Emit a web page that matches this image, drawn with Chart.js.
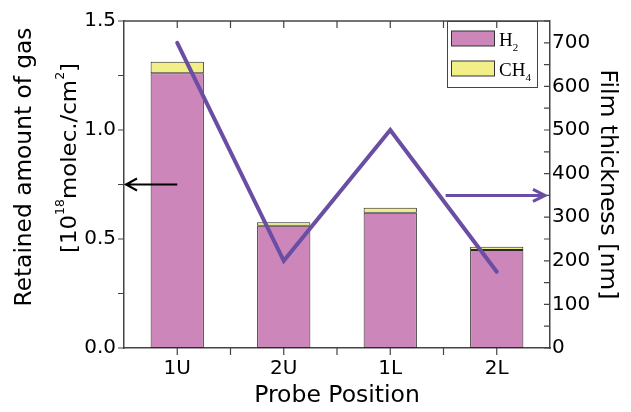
<!DOCTYPE html>
<html>
<head>
<meta charset="utf-8">
<script src="https://cdn.jsdelivr.net/npm/chart.js@4"></script>
<style>
  body { margin: 0; background: #fff; }
  #wrap { width: 631px; height: 412px; }
</style>
</head>
<body>
<div id="wrap"><canvas id="chart" width="631" height="412"></canvas></div>
<script>
var probes = ['1U', '2U', '1L', '2L'];
var h2Amount = [1.26, 0.561, 0.62, 0.45];
var ch4Amount = [0.053, 0.016, 0.023, 0.015];
var filmThickness = [700, 200, 500, 175];
var gasTicks = [0, 0.5, 1.0, 1.5];
var thicknessTicks = [0, 100, 200, 300, 400, 500, 600, 700];

// arrows pointing at the axis each series belongs to
var gasArrow = { from: '1U', value: 0.75 };
var thicknessArrow = { fromValue: 2.52, value: 350 };

var colors = { h2: '#cc86b9', ch4: '#f3ef88', line: '#6a4ea3', axis: '#444444' };
var font = 'DejaVu Sans';

// draws text parts (text, isSuperscript) centred on 0,0, squeezed to a given length
function drawParts(ctx, parts, size, length) {
    var total = 0;
    parts.forEach(function (p) {
        ctx.font = (p[1] ? Math.round(size * 0.55) : size) + 'px "' + font + '"';
        total += ctx.measureText(p[0]).width;
    });
    ctx.scale(length / total, 1);
    var px = -total / 2;
    parts.forEach(function (p) {
        ctx.font = (p[1] ? Math.round(size * 0.55) : size) + 'px "' + font + '"';
        ctx.fillText(p[0], px, p[1] ? -size * 0.42 : 0);
        px += ctx.measureText(p[0]).width;
    });
}

var axisDecor = {
    id: 'axisDecor',
    afterDraw: function (chart) {
        var ctx = chart.ctx;
        var a = chart.chartArea;
        var x = chart.scales.x, y = chart.scales.y, y2 = chart.scales.y2;
        ctx.save();
        ctx.strokeStyle = colors.axis;
        ctx.lineWidth = 1.5;
        // top border
        ctx.beginPath();
        ctx.moveTo(a.left, a.top);
        ctx.lineTo(a.right, a.top);
        ctx.stroke();
        ctx.lineWidth = 1.2;
        ctx.beginPath();
        // left ticks, outward
        for (var v = 0; v <= 1.5001; v += 0.25) {
            var py = y.getPixelForValue(v);
            ctx.moveTo(a.left - 6, py); ctx.lineTo(a.left, py);
        }
        // right ticks, inward
        for (var t = 0; t <= 750; t += 50) {
            var py2 = y2.getPixelForValue(t);
            ctx.moveTo(a.right - 6, py2); ctx.lineTo(a.right, py2);
        }
        // bottom (outward) and top (inward) ticks at centers and between
        for (var i = 0; i < probes.length; i++) {
            var cx = x.getPixelForValue(i);
            var bx = x.getPixelForValue(i + 0.5);
            ctx.moveTo(cx, a.bottom); ctx.lineTo(cx, a.bottom + 7);
            ctx.moveTo(cx, a.top); ctx.lineTo(cx, a.top + 7);
            if (i < probes.length - 1) {
                ctx.moveTo(bx, a.bottom); ctx.lineTo(bx, a.bottom + 7);
                ctx.moveTo(bx, a.top); ctx.lineTo(bx, a.top + 7);
            }
        }
        ctx.stroke();

        // arrows
        var ay = y.getPixelForValue(gasArrow.value);
        var ax = x.getPixelForValue(probes.indexOf(gasArrow.from));
        ctx.strokeStyle = '#000';
        ctx.lineWidth = 2;
        ctx.beginPath();
        ctx.moveTo(ax, ay); ctx.lineTo(a.left + 1, ay);
        ctx.moveTo(a.left + 13, ay - 6); ctx.lineTo(a.left + 2, ay); ctx.lineTo(a.left + 13, ay + 6);
        ctx.stroke();

        var ry = y2.getPixelForValue(thicknessArrow.value);
        var rx = x.getPixelForValue(thicknessArrow.fromValue);
        ctx.strokeStyle = colors.line;
        ctx.lineWidth = 3;
        ctx.beginPath();
        ctx.moveTo(rx, ry); ctx.lineTo(a.right - 5, ry);
        ctx.moveTo(a.right - 17, ry - 6); ctx.lineTo(a.right - 5, ry); ctx.lineTo(a.right - 17, ry + 6);
        ctx.stroke();

        // legend box
        ctx.lineWidth = 1;
        ctx.strokeStyle = colors.axis;
        ctx.strokeRect(447.5, a.top + 0.5, 90, 66);
        var items = [['H', '2', colors.h2], ['CH', '4', colors.ch4]];
        items.forEach(function (it, k) {
            var top = a.top + 10 + k * 30;
            ctx.fillStyle = it[2];
            ctx.fillRect(451.5, top, 43, 15);
            ctx.strokeStyle = '#333';
            ctx.strokeRect(451.5, top, 43, 15);
            ctx.fillStyle = '#000';
            ctx.textBaseline = 'alphabetic';
            ctx.textAlign = 'left';
            ctx.font = '19px "Liberation Serif"';
            ctx.fillText(it[0], 499, top + 15);
            var w = ctx.measureText(it[0]).width;
            ctx.font = '11px "Liberation Serif"';
            ctx.fillText(it[1], 499 + w, top + 20);
        });

        // left axis title, two lines, with superscripts
        ctx.fillStyle = '#000';
        ctx.textAlign = 'left';
        ctx.textBaseline = 'middle';
        ctx.save();
        ctx.translate(25, 167);
        ctx.rotate(-Math.PI / 2);
        drawParts(ctx, [['Retained amount of gas', false]], 23, 279);
        ctx.restore();

        ctx.save();
        ctx.translate(70, 158);
        ctx.rotate(-Math.PI / 2);
        drawParts(ctx, [['[10', false], ['18', true], ['molec./cm', false], ['2', true], [']', false]], 22, 190);
        ctx.restore();
        ctx.restore();
    }
};

new Chart(document.getElementById('chart'), {
    type: 'bar',
    data: {
        labels: probes,
        datasets: [
            {
                label: 'Film thickness',
                type: 'line',
                data: filmThickness,
                yAxisID: 'y2',
                borderColor: colors.line,
                borderWidth: 4,
                pointRadius: 0,
                borderCapStyle: 'round',
                tension: 0,
                order: 1
            },
            {
                label: 'H2',
                data: h2Amount,
                backgroundColor: colors.h2,
                borderColor: '#2a2a2a',
                borderWidth: 1,
                borderSkipped: false,
                barPercentage: 0.5,
                categoryPercentage: 1,
                stack: 'gas',
                order: 2
            },
            {
                label: 'CH4',
                data: ch4Amount,
                backgroundColor: colors.ch4,
                borderColor: '#2a2a2a',
                borderWidth: 1,
                borderSkipped: false,
                barPercentage: 0.5,
                categoryPercentage: 1,
                stack: 'gas',
                order: 2
            }
        ]
    },
    options: {
        responsive: false,
        animation: false,
        layout: { padding: { top: 21, left: 0, right: 0, bottom: 0 } },
        plugins: { legend: { display: false }, tooltip: { enabled: false } },
        scales: {
            x: {
                stacked: true,
                grid: { display: false, drawTicks: false },
                border: { display: true, color: colors.axis, width: 1.5 },
                ticks: { color: '#000', font: { family: font, size: 20 }, padding: 9 },
                title: { display: true, text: 'Probe Position', color: '#000', font: { family: font, size: 23.5 }, padding: { top: 0, bottom: 2 } },
                afterFit: function (s) { s.height = 64; }
            },
            y: {
                stacked: true,
                min: 0,
                max: 1.5,
                afterBuildTicks: function (s) { s.ticks = gasTicks.map(function (v) { return { value: v }; }); },
                grid: { display: false, drawTicks: false },
                border: { display: true, color: colors.axis, width: 1.5 },
                ticks: {
                    color: '#000', font: { family: font, size: 20 }, padding: 8,
                    callback: function (v) { return v.toFixed(1); }
                },
                afterFit: function (s) { s.width = 124; }
            },
            y2: {
                position: 'right',
                min: 0,
                max: 750,
                afterBuildTicks: function (s) { s.ticks = thicknessTicks.map(function (v) { return { value: v }; }); },
                grid: { display: false, drawTicks: false },
                border: { display: true, color: colors.axis, width: 1.5 },
                ticks: { color: '#000', font: { family: font, size: 20 }, padding: 2 },
                title: { display: true, text: 'Film thickness [nm]', color: '#000', font: { family: font, size: 23.5 }, padding: { top: 10, bottom: 0 } },
                afterFit: function (s) { s.width = 81; }
            }
        }
    },
    plugins: [axisDecor]
});
</script>
</body>
</html>
